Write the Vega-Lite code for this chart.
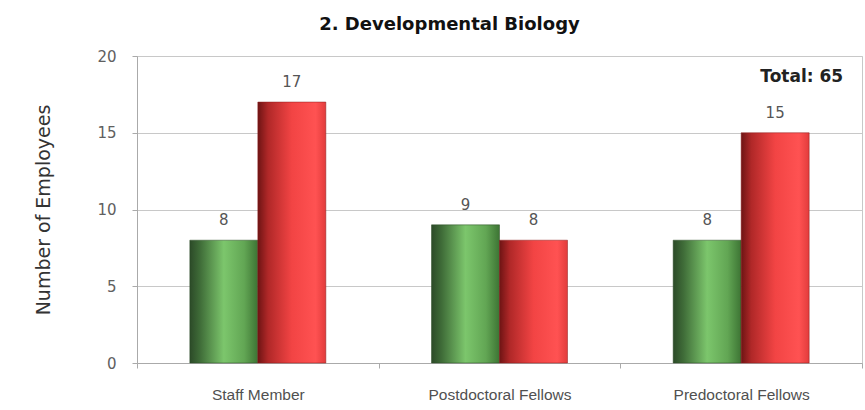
{
  "$schema": "https://vega.github.io/schema/vega-lite/v6.json",
  "autosize": "none",
  "width": 725,
  "height": 307,
  "padding": {"left": 137, "top": 56, "right": 3, "bottom": 47},
  "background": "white",
  "title": {"text": "2. Developmental Biology", "font": "DejaVu Sans", "fontSize": 18, "fontWeight": "bold", "color": "#111", "anchor": "middle", "dx": -50, "offset": 15},
  "config": {
    "view": {"stroke": "#c8c8c8", "strokeWidth": 1},
    "font": "DejaVu Sans"
  },
  "data": {"values": [
    {"category": "Staff Member", "group": "A", "value": 8},
    {"category": "Staff Member", "group": "B", "value": 17},
    {"category": "Postdoctoral Fellows", "group": "A", "value": 9},
    {"category": "Postdoctoral Fellows", "group": "B", "value": 8},
    {"category": "Predoctoral Fellows", "group": "A", "value": 8},
    {"category": "Predoctoral Fellows", "group": "B", "value": 15}
  ]},
  "encoding": {
    "x": {"field": "category", "type": "nominal", "sort": null,
      "scale": {"paddingInner": 0, "paddingOuter": 0},
      "axis": {"title": null, "labelAngle": 0, "labelFont": "Liberation Sans", "labelFontSize": 15.5, "labelColor": "#505050", "labelPadding": 19, "domainColor": "#aaa", "tickColor": "#aaa", "tickSize": 5, "tickBand": "extent"}},
    "xOffset": {"field": "group", "type": "nominal", "scale": {"paddingInner": 0, "paddingOuter": 0.777}},
    "y": {"field": "value", "type": "quantitative",
      "scale": {"domain": [0, 20]},
      "axis": {"title": "Number of Employees", "titleFont": "DejaVu Sans", "titleFontSize": 19, "titleFontWeight": "normal", "titleColor": "#333", "titlePadding": 43, "values": [0, 5, 10, 15, 20], "labelFont": "DejaVu Sans", "labelFontSize": 15, "labelColor": "#606060", "labelPadding": 16, "tickSize": 5, "tickColor": "#aaa", "domainColor": "#aaa", "gridColor": "#c8c8c8"}}
  },
  "layer": [
    {
      "transform": [{"filter": "datum.group === 'A'"}],
      "mark": {"type": "bar", "stroke": "#2a4a25", "strokeWidth": 0.5, "color": {"gradient": "linear", "x1": 0, "y1": 0, "x2": 1, "y2": 0, "stops": [
        {"offset": 0, "color": "#2c4a28"},
        {"offset": 0.15, "color": "#3f6c38"},
        {"offset": 0.5, "color": "#7cc66c"},
        {"offset": 0.8, "color": "#62a654"},
        {"offset": 1, "color": "#3d7434"}
      ]}}
    },
    {
      "transform": [{"filter": "datum.group === 'B'"}],
      "mark": {"type": "bar", "stroke": "#8a1c1c", "strokeWidth": 0.5, "color": {"gradient": "linear", "x1": 0, "y1": 0, "x2": 1, "y2": 0, "stops": [
        {"offset": 0, "color": "#6e1414"},
        {"offset": 0.15, "color": "#b02828"},
        {"offset": 0.5, "color": "#f24444"},
        {"offset": 0.85, "color": "#ff5252"},
        {"offset": 1, "color": "#e23c3c"}
      ]}}
    },
    {
      "mark": {"type": "text", "baseline": "bottom", "dy": -12, "fontSize": 15, "color": "#555"},
      "encoding": {"text": {"field": "value", "type": "quantitative"}}
    },
    {
      "data": {"values": [{"category": "Predoctoral Fellows", "y": 18.6, "label": "Total: 65"}]},
      "mark": {"type": "text", "align": "right", "baseline": "middle", "dx": 102, "fontSize": 17, "fontWeight": "bold", "color": "#222"},
      "encoding": {
        "x": {"field": "category", "type": "nominal", "sort": null},
        "xOffset": null,
        "y": {"field": "y", "type": "quantitative"},
        "text": {"field": "label"}
      }
    }
  ]
}
